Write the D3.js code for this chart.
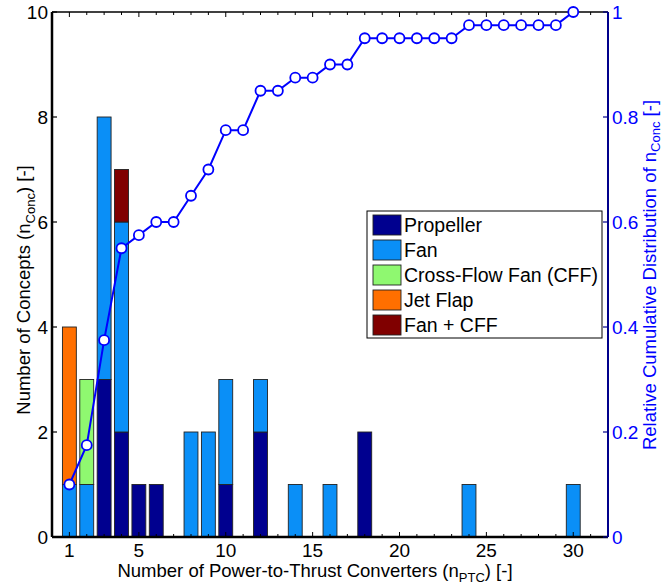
<!DOCTYPE html>
<html>
<head>
<meta charset="utf-8">
<script src="https://cdn.jsdelivr.net/npm/d3@7"></script>
<style>
  body { margin: 0; background: #fff; }
  svg text { font-family: "Liberation Sans", Arial, sans-serif; }
</style>
</head>
<body>
<svg id="chart" width="665" height="588"></svg>
<script>
// bar data: number of concepts per n_PTC, stacked by converter type
const nPTC      = [1, 2, 3, 4, 5, 6, 8, 9, 10, 12, 14, 16, 18, 24, 30];
const propeller = [0, 0, 3, 2, 1, 1, 0, 0, 1, 2, 0, 0, 2, 0, 0];
const fan       = [1, 1, 5, 4, 0, 0, 2, 2, 2, 1, 1, 1, 0, 1, 1];
const crossFlow = [0, 2, 0, 0, 0, 0, 0, 0, 0, 0, 0, 0, 0, 0, 0];
const jetFlap   = [3, 0, 0, 0, 0, 0, 0, 0, 0, 0, 0, 0, 0, 0, 0];
const fanCff    = [0, 0, 0, 1, 0, 0, 0, 0, 0, 0, 0, 0, 0, 0, 0];

const seriesNames  = ['Propeller', 'Fan', 'Cross-Flow Fan (CFF)', 'Jet Flap', 'Fan + CFF'];
const seriesColors = ['#00008f', '#0a8ff7', '#8ff870', '#ff6f00', '#800000'];

// cumulative distribution line
const cumX   = [1, 2, 3, 4, 5, 6, 7, 8, 9, 10, 11, 12, 13, 14, 15, 16, 17, 18, 19, 20, 21, 22, 23, 24, 25, 26, 27, 28, 29, 30];
const cumVal = [0.1, 0.175, 0.375, 0.55, 0.575, 0.6, 0.6, 0.65, 0.7, 0.775, 0.775, 0.85, 0.85, 0.875, 0.875, 0.9, 0.9, 0.95, 0.95, 0.95, 0.95, 0.95, 0.95, 0.975, 0.975, 0.975, 0.975, 0.975, 0.975, 1.0];

const xTicks  = [1, 5, 10, 15, 20, 25, 30];
const yTicks  = [0, 2, 4, 6, 8, 10];
const y2Ticks = [0, 0.2, 0.4, 0.6, 0.8, 1];

const pLeft = 52, pRight = 608, pTop = 12, pBottom = 537;
const svg = d3.select('#chart');

const x = d3.scaleLinear().domain([0, 32]).range([pLeft, pRight]);
const y = d3.scaleLinear().domain([0, 10]).range([pBottom, pTop]);
const y2 = d3.scaleLinear().domain([0, 1]).range([pBottom, pTop]);

// stacked table
const rows = nPTC.map((n, i) => ({
    n: n,
    s0: propeller[i], s1: fan[i], s2: crossFlow[i], s3: jetFlap[i], s4: fanCff[i]
}));
const stacked = d3.stack().keys(['s0', 's1', 's2', 's3', 's4'])(rows);
const barW = x(0.8) - x(0);

const bars = svg.append('g');
stacked.forEach((layer, k) => {
    bars.selectAll(null)
        .data(layer.filter(d => d[1] > d[0]))
        .enter().append('rect')
        .attr('x', d => x(d.data.n) - barW / 2)
        .attr('width', barW)
        .attr('y', d => y(d[1]))
        .attr('height', d => y(d[0]) - y(d[1]))
        .attr('fill', seriesColors[k])
        .attr('stroke', '#222')
        .attr('stroke-width', 0.9);
});

// axes frame
const frame = svg.append('g');
frame.append('line').attr('x1', pLeft).attr('x2', pRight).attr('y1', pTop).attr('y2', pTop)
    .attr('stroke', '#000').attr('stroke-width', 1.5);
frame.append('line').attr('x1', pLeft).attr('x2', pRight).attr('y1', pBottom).attr('y2', pBottom)
    .attr('stroke', '#000').attr('stroke-width', 2.5);
frame.append('line').attr('x1', pLeft).attr('x2', pLeft).attr('y1', pTop).attr('y2', pBottom)
    .attr('stroke', '#000').attr('stroke-width', 2.5);
frame.append('line').attr('x1', pRight).attr('x2', pRight).attr('y1', pTop).attr('y2', pBottom)
    .attr('stroke', '#00008b').attr('stroke-width', 2);

// x ticks (inward) on top and bottom
const minorX = d3.range(1, 32);
frame.selectAll('.xt').data(minorX).enter().append('line')
    .attr('x1', d => x(d)).attr('x2', d => x(d))
    .attr('y1', pTop).attr('y2', d => pTop + (xTicks.includes(d) ? 5 : 3))
    .attr('stroke', '#000').attr('stroke-width', 1);
frame.selectAll('.xb').data(minorX).enter().append('line')
    .attr('x1', d => x(d)).attr('x2', d => x(d))
    .attr('y1', pBottom).attr('y2', d => pBottom - (xTicks.includes(d) ? 5 : 3))
    .attr('stroke', '#000').attr('stroke-width', 1);

frame.selectAll('.xl').data(xTicks).enter().append('text')
    .attr('x', d => x(d)).attr('y', 557)
    .attr('text-anchor', 'middle').attr('font-size', 19).attr('fill', '#000')
    .text(d => d);

// left y
frame.selectAll('.yt').data(yTicks).enter().append('line')
    .attr('x1', pLeft).attr('x2', pLeft + 5)
    .attr('y1', d => y(d)).attr('y2', d => y(d))
    .attr('stroke', '#000').attr('stroke-width', 1.2);
frame.selectAll('.yl').data(yTicks).enter().append('text')
    .attr('x', pLeft - 4).attr('y', d => y(d) + 7)
    .attr('text-anchor', 'end').attr('font-size', 19).attr('fill', '#000')
    .text(d => d);

// right y
frame.selectAll('.y2t').data(y2Ticks).enter().append('line')
    .attr('x1', pRight - 5).attr('x2', pRight)
    .attr('y1', d => y2(d)).attr('y2', d => y2(d))
    .attr('stroke', '#00008b').attr('stroke-width', 1.2);
frame.selectAll('.y2l').data(y2Ticks).enter().append('text')
    .attr('x', pRight + 4).attr('y', d => y2(d) + 7)
    .attr('text-anchor', 'start').attr('font-size', 19).attr('fill', '#0000ff')
    .text(d => d);

// axis titles
const xt = svg.append('text')
    .attr('x', 315).attr('y', 577)
    .attr('text-anchor', 'middle').attr('font-size', 18.5).attr('fill', '#000');
xt.append('tspan').text('Number of Power-to-Thrust Converters (n');
xt.append('tspan').attr('dy', 5).attr('font-size', 13).text('PTC');
xt.append('tspan').attr('dy', -5).text(') [-]');

const yt = svg.append('text')
    .attr('transform', 'translate(30,290) rotate(-90)')
    .attr('text-anchor', 'middle').attr('font-size', 18.5).attr('fill', '#000');
yt.append('tspan').text('Number of Concepts (n');
yt.append('tspan').attr('dy', 5).attr('font-size', 13).text('Conc');
yt.append('tspan').attr('dy', -5).text(') [-]');

const y2t = svg.append('text')
    .attr('transform', 'translate(656,275) rotate(-90)')
    .attr('text-anchor', 'middle').attr('font-size', 18.5).attr('fill', '#0000ff');
y2t.append('tspan').text('Relative Cumulative Distribution of n');
y2t.append('tspan').attr('dy', 4).attr('font-size', 13).text('Conc');
y2t.append('tspan').attr('dy', -4).text(' [-]');

// cumulative line
const line = d3.line().x(d => x(d[0])).y(d => y2(d[1]));
const pts = cumX.map((v, i) => [v, cumVal[i]]);
svg.append('path').datum(pts)
    .attr('d', line).attr('fill', 'none')
    .attr('stroke', '#0000ff').attr('stroke-width', 2);
svg.selectAll('.pt').data(pts).enter().append('circle')
    .attr('cx', d => x(d[0])).attr('cy', d => y2(d[1])).attr('r', 5)
    .attr('fill', '#fff').attr('stroke', '#0000ff').attr('stroke-width', 1.8);

// legend
const lg = svg.append('g').attr('transform', 'translate(367,211)');
lg.append('rect').attr('width', 235).attr('height', 127)
    .attr('fill', '#fff').attr('stroke', '#000').attr('stroke-width', 1);
seriesNames.forEach((name, i) => {
    lg.append('rect')
        .attr('x', 6).attr('y', 4 + i * 25).attr('width', 28).attr('height', 20)
        .attr('fill', seriesColors[i]).attr('stroke', '#222').attr('stroke-width', 0.9);
    lg.append('text')
        .attr('x', 37).attr('y', 21 + i * 25)
        .attr('font-size', 19.5).attr('fill', '#000')
        .text(name);
});
</script>
</body>
</html>
